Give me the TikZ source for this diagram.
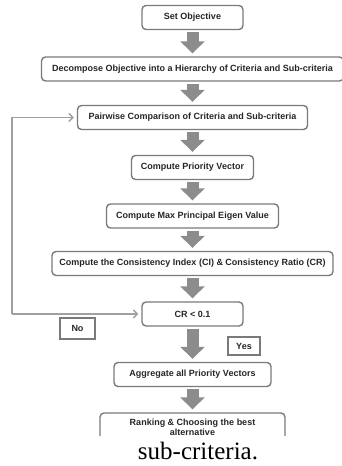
\documentclass[tikz,border=0pt]{standalone}
\usepackage{fontspec}
\setmainfont{Liberation Serif}
\setsansfont{Liberation Sans}
\usetikzlibrary{arrows.meta,positioning,calc}

\definecolor{boxgray}{HTML}{7A7A7A}
\definecolor{arrowgray}{HTML}{8C8C8C}
\definecolor{loopgray}{HTML}{A0A0A0}
\definecolor{textgray}{HTML}{262626}

\tikzset{
    stepbox/.style={draw=boxgray, line width=1.4pt, rounded corners=4pt, fill=white,
        inner sep=0pt, align=center, text=textgray,
        font=\sffamily\bfseries\fontsize{9}{10.4}\selectfont},
    tagbox/.style={draw=boxgray, line width=1.6pt, fill=white, inner sep=0pt,
        text=textgray, font=\sffamily\bfseries\fontsize{9}{10.4}\selectfont},
    blockarrow/.style={draw=arrowgray, line width=12pt, -{Triangle[width=24pt,length=12pt]}},
    loopline/.style={draw=loopgray, line width=1.4pt, -{Straight Barb[length=4pt,width=8pt]}, shorten >=3pt}
}

\begin{document}
\begin{tikzpicture}[x=1pt,y=-1pt]
    \useasboundingbox (0,0) rectangle (342,466);

    % Steps
    \foreach \nm/\cy/\bw/\txt in {setobj/17.5/101/{Set Objective},
        decomp/69/302/{Decompose Objective into a Hierarchy of Criteria and Sub-criteria},
        pair/117.5/230/{Pairwise Comparison of Criteria and Sub-criteria},
        prio/167.5/122/{Compute Priority Vector},
        eigen/216/172/{Compute Max Principal Eigen Value},
        consist/263.5/281/{Compute the Consistency Index (CI) \& Consistency Ratio (CR)},
        cr/314/101/{CR < 0.1},
        aggr/374.5/157/{Aggregate all Priority Vectors}} {
        \node[stepbox, minimum width=\bw pt, minimum height=24pt] (\nm) at (192.5,\cy) {\txt};
    }
    \node[stepbox, minimum width=185pt, minimum height=28pt] (rank) at (192.5,427)
        {Ranking \& Choosing the best\\alternative};

    % Flow arrows
    \foreach \a/\b in {setobj/decomp, decomp/pair, pair/prio, prio/eigen,
        eigen/consist, consist/cr, cr/aggr, aggr/rank} {
        \draw[blockarrow] ([yshift=-2pt]\a.south) -- ([yshift=3pt]\b.north);
    }

    % Feedback loop
    \coordinate (back) at (12,314);
    \draw[loopline] (back) -- (cr.west);
    \draw[loopline] (back) |- (pair.west);

    % Decision labels
    \node[tagbox, minimum width=35pt, minimum height=21pt] (no) at (77.5,328.5) {No};
    \node[tagbox, minimum width=32pt, minimum height=18pt] (yes) at (244,346) {Yes};

    % Caption strip
    \fill[white] (0,436) rectangle (342,466);
    \node[font=\fontsize{25}{28}\selectfont, inner sep=0pt] (caption) at (198,451) {sub-criteria.};
\end{tikzpicture}
\end{document}
